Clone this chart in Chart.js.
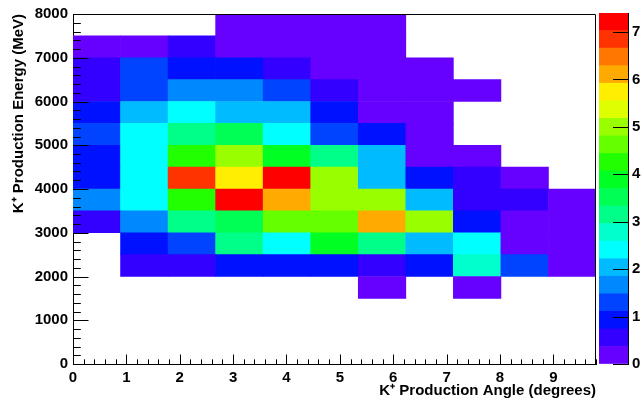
<!DOCTYPE html>
<html>
<head>
<meta charset="utf-8">
<script src="https://cdn.jsdelivr.net/npm/chart.js@4.4.1/dist/chart.umd.min.js"></script>
<style>
  html, body { margin: 0; padding: 0; background: #fff; }
  #wrap { position: relative; width: 642px; height: 400px; }
  #main { position: absolute; left: 0; top: 0; }
  #zbar { position: absolute; left: 590px; top: 0; }
</style>
</head>
<body>
<div id="wrap">
  <canvas id="main" width="642" height="400"></canvas>
  <canvas id="zbar" width="52" height="400"></canvas>
</div>
<script>
// angle axis: 11 bins from 0 to 9.8 degrees
const angleMin = 0;
const angleMax = 9.8;
const angleBins = 11;
const angleTicks = [0, 1, 2, 3, 4, 5, 6, 7, 8, 9];

// energy axis: 500 MeV bins, lower edge of each row (top row first)
const energyMax = 8000;
const energyBinWidth = 500;
const energyRows = [7500, 7000, 6500, 6000, 5500, 5000, 4500, 4000, 3500, 3000, 2500, 2000, 1500];
const energyTicks = [0, 1000, 2000, 3000, 4000, 5000, 6000, 7000, 8000];

// bin contents per row, one entry per angle bin (null = empty)
const z7500 = [null, null, null, 0.2, 0.2, 0.2, 0.2, null, null, null, null];
const z7000 = [0.2, 0.2, 0.55, 0.2, 0.2, 0.2, 0.2, null, null, null, null];
const z6500 = [0.55, 1.3, 0.9, 0.9, 0.55, 0.2, 0.2, 0.2, null, null, null];
const z6000 = [0.55, 1.3, 1.7, 1.7, 1.3, 0.55, 0.2, 0.2, 0.2, null, null];
const z5500 = [0.9, 2.0, 2.4, 2.0, 2.0, 0.9, 0.2, 0.2, null, null, null];
const z5000 = [1.3, 2.4, 3.1, 3.5, 2.4, 1.3, 0.9, 0.2, null, null, null];
const z4500 = [0.9, 2.4, 4.2, 5.0, 3.9, 3.1, 2.0, 0.2, 0.2, null, null];
const z4000 = [0.9, 2.4, 6.8, 5.7, 7.2, 5.0, 2.0, 0.9, 0.55, 0.2, null];
const z3500 = [1.7, 2.4, 4.2, 7.2, 6.1, 5.0, 5.0, 2.0, 0.55, 0.55, 0.2];
const z3000 = [0.55, 1.7, 3.1, 3.5, 4.6, 4.6, 6.1, 5.0, 0.9, 0.2, 0.2];
const z2500 = [null, 0.9, 1.3, 3.1, 2.4, 3.9, 3.1, 2.0, 2.4, 0.2, 0.2];
const z2000 = [null, 0.55, 0.55, 0.9, 0.9, 0.9, 0.55, 0.9, 2.8, 1.3, 0.2];
const z1500 = [null, null, null, null, null, null, 0.2, null, 0.2, null, null];
const zRows = [z7500, z7000, z6500, z6000, z5500, z5000, z4500, z4000, z3500, z3000, z2500, z2000, z1500];

// colour scale
const zMax = 7.4;
const zTicks = [0, 1, 2, 3, 4, 5, 6, 7];
const palette = ['#6600ff', '#3300ff', '#0011ff', '#0044ff', '#0088ff', '#00bbff', '#00ffff',
  '#00ffcc', '#00ff88', '#00ff55', '#00ff22', '#22ff00', '#66ff00', '#99ff00', '#ddff00',
  '#ffee00', '#ffaa00', '#ff7700', '#ff3300', '#ff0000'];

const FONT = { family: '"Liberation Sans", Arial, sans-serif', size: 15, weight: 'bold' };

function colorFor(z) {
  let i = Math.floor(z / zMax * palette.length);
  return palette[Math.max(0, Math.min(palette.length - 1, i))];
}

// build the cells
const binW = (angleMax - angleMin) / angleBins;
const cells = [];
zRows.forEach((row, r) => {
  row.forEach((z, c) => {
    if (z === null) return;
    const lo = energyRows[r];
    cells.push({ x: angleMin + (c + 0.5) * binW, y: [lo, lo + energyBinWidth], z: z });
  });
});

// ROOT style inner ticks and frame
const rootTicks = {
  id: 'rootTicks',
  afterDatasetsDraw(chart) {
    const ctx = chart.ctx, a = chart.chartArea;
    const x = chart.scales.x, y = chart.scales.y;
    ctx.save();
    ctx.strokeStyle = '#000';
    ctx.lineWidth = 1;
    ctx.beginPath();
    ctx.moveTo(a.left, a.top + 0.5);
    ctx.lineTo(a.right - 0.5, a.top + 0.5);
    ctx.lineTo(a.right - 0.5, a.bottom);
    ctx.stroke();
    ctx.beginPath();
    for (let i = 0; i * 0.2 <= angleMax + 1e-6; i++) {
      const px = Math.round(x.getPixelForValue(i * 0.2)) + 0.5;
      const len = i % 5 === 0 ? 9.5 : 4.7;
      ctx.moveTo(px, a.bottom);
      ctx.lineTo(px, a.bottom - len);
    }
    for (let i = 0; i * 200 <= energyMax; i++) {
      const py = Math.round(y.getPixelForValue(i * 200)) + 0.5;
      const len = i % 5 === 0 ? 15.5 : 7.8;
      ctx.moveTo(a.left, py);
      ctx.lineTo(a.left + len, py);
    }
    ctx.stroke();
    ctx.restore();
  }
};

new Chart(document.getElementById('main'), {
  type: 'bar',
  data: {
    datasets: [{
      data: cells,
      backgroundColor: c => c.raw ? colorFor(c.raw.z) : '#fff',
      borderWidth: 0,
      barPercentage: 1,
      categoryPercentage: 1
    }]
  },
  options: {
    responsive: false,
    animation: false,
    events: [],
    layout: { padding: { left: 0, top: 13, right: 46, bottom: 0 } },
    plugins: { legend: { display: false }, tooltip: { enabled: false } },
    scales: {
      x: {
        type: 'linear',
        min: angleMin,
        max: angleMax,
        offset: false,
        afterFit: s => { s.height = 36; },
        afterBuildTicks: s => { s.ticks = angleTicks.map(v => ({ value: v })); },
        grid: { drawOnChartArea: false, drawTicks: false },
        border: { display: true, color: '#000', width: 1 },
        ticks: { color: '#000', font: FONT, padding: 5, maxRotation: 0, autoSkip: false, callback: v => String(v) },
        title: { display: true, text: 'K\u207A Production Angle (degrees)', align: 'end', color: '#000', font: FONT, padding: { top: 0, bottom: 0 } }
      },
      y: {
        min: 0,
        max: energyMax,
        afterFit: s => { s.width = 73; },
        afterBuildTicks: s => { s.ticks = energyTicks.map(v => ({ value: v })); },
        grid: { drawOnChartArea: false, drawTicks: false },
        border: { display: true, color: '#000', width: 1 },
        ticks: { color: '#000', font: FONT, padding: 5, autoSkip: false, callback: v => String(v) },
        title: { display: true, text: 'K\u207A Production Energy (MeV)', align: 'end', color: '#000', font: FONT, padding: { top: 10, bottom: 0 } }
      }
    }
  },
  plugins: [rootTicks]
});

// colour bar
const zbarTicks = {
  id: 'zbarTicks',
  afterDatasetsDraw(chart) {
    const ctx = chart.ctx, a = chart.chartArea, y = chart.scales.y;
    ctx.save();
    ctx.strokeStyle = '#000';
    ctx.lineWidth = 1;
    ctx.beginPath();
    zTicks.forEach(v => {
      const py = Math.round(y.getPixelForValue(v)) + 0.5;
      ctx.moveTo(a.right, py);
      ctx.lineTo(a.right - 15, py);
    });
    ctx.stroke();
    ctx.restore();
  }
};

new Chart(document.getElementById('zbar'), {
  type: 'bar',
  data: {
    labels: [''],
    datasets: palette.map(c => ({
      data: [zMax / palette.length],
      backgroundColor: c,
      borderWidth: 0,
      barPercentage: 1,
      categoryPercentage: 1
    }))
  },
  options: {
    responsive: false,
    animation: false,
    events: [],
    layout: { padding: { left: 9, top: 13, right: 0, bottom: 36 } },
    plugins: { legend: { display: false }, tooltip: { enabled: false } },
    scales: {
      x: { display: false, stacked: true },
      y: {
        stacked: true,
        position: 'right',
        min: 0,
        max: zMax,
        afterFit: s => { s.width = 14; },
        afterBuildTicks: s => { s.ticks = zTicks.map(v => ({ value: v })); },
        grid: { drawOnChartArea: false, drawTicks: false },
        border: { display: true, color: '#000', width: 1 },
        ticks: { color: '#000', font: FONT, padding: 4, callback: v => String(v) }
      }
    }
  },
  plugins: [zbarTicks]
});
</script>
</body>
</html>
